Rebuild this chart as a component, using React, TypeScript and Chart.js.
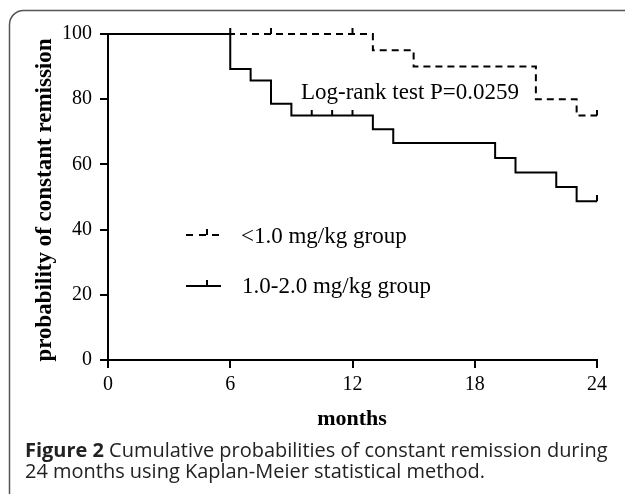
import React, { useEffect, useRef } from "react";
import { Chart, registerables } from "chart.js";

Chart.register(...registerables);

// ---- data ----
const xTicks = [0, 6, 12, 18, 24];
const yTicks = [0, 20, 40, 60, 80, 100];

const lowTimes = [0, 13, 15, 21, 23, 24];
const lowSurv = [100, 95, 90, 80, 75, 75];
const lowCensorTimes = [6, 8, 12, 24];
const lowCensorSurv = [100, 100, 100, 75];

const highTimes = [0, 6, 7, 8, 9, 13, 14, 19, 20, 22, 23, 24];
const highSurv = [100, 89.3, 85.7, 78.6, 75.0, 70.8, 66.6, 62.0, 57.5, 53.1, 48.7, 48.7];
const highCensorTimes = [10, 11, 12, 24];
const highCensorSurv = [75, 75, 75, 48.7];

const legendLabels = ["<1.0 mg/kg group", "1.0-2.0 mg/kg group"];
const xTitle = "months";
const yTitle = "probability of constant remission";
const annotationText = "Log-rank test P=0.0259";
const captionBold = "Figure 2";
const captionRest1 = " Cumulative probabilities of constant remission during";
const captionLine2 = "24 months using Kaplan-Meier statistical method.";

const SERIF = '"Liberation Serif", "Times New Roman", serif';
const SANS = '"Open Sans", "Noto Sans", sans-serif';

function makeCensorMark(): HTMLCanvasElement {
  const c = document.createElement("canvas");
  c.width = 4;
  c.height = 12;
  const g = c.getContext("2d")!;
  g.fillStyle = "#000";
  g.fillRect(1, 0, 2, 6);
  return c;
}

const decorPlugin = {
  id: "decor",
  beforeDraw(chart: any) {
    const ctx = chart.ctx;
    ctx.save();
    ctx.fillStyle = "#fff";
    ctx.fillRect(0, 0, chart.width, chart.height);
    ctx.restore();
  },
  afterDraw(chart: any) {
    const ctx = chart.ctx as CanvasRenderingContext2D;
    ctx.save();

    // frame
    ctx.strokeStyle = "#555";
    ctx.lineWidth = 1.5;
    ctx.beginPath();
    (ctx as any).roundRect(9.5, 10.5, 700, 600, 14);
    ctx.stroke();

    ctx.fillStyle = "#000";
    // y title
    ctx.save();
    ctx.font = `bold 23px ${SERIF}`;
    ctx.textAlign = "center";
    ctx.textBaseline = "alphabetic";
    ctx.translate(51, 200);
    ctx.rotate(-Math.PI / 2);
    ctx.fillText(yTitle, 0, 0);
    ctx.restore();

    // x title
    ctx.font = `bold 22px ${SERIF}`;
    ctx.textAlign = "center";
    ctx.textBaseline = "alphabetic";
    ctx.fillText(xTitle, 352, 425);

    // annotation
    ctx.font = `23px ${SERIF}`;
    ctx.textAlign = "left";
    ctx.fillText(annotationText, 301, 99);

    // legend
    ctx.strokeStyle = "#000";
    ctx.lineWidth = 2;
    ctx.setLineDash([7, 6]);
    ctx.beginPath();
    ctx.moveTo(186, 235);
    ctx.lineTo(221, 235);
    ctx.stroke();
    ctx.setLineDash([]);
    ctx.beginPath();
    ctx.moveTo(207, 229);
    ctx.lineTo(207, 235);
    ctx.stroke();
    ctx.beginPath();
    ctx.moveTo(186, 286);
    ctx.lineTo(221, 286);
    ctx.moveTo(207, 280);
    ctx.lineTo(207, 286);
    ctx.stroke();
    ctx.font = `23px ${SERIF}`;
    ctx.fillText(legendLabels[0], 241, 243);
    ctx.fillText(legendLabels[1], 242, 293);

    // caption
    ctx.font = `bold 100px ${SANS}`;
    const wb = ctx.measureText(captionBold).width;
    ctx.font = `100px ${SANS}`;
    const wr = ctx.measureText(captionRest1).width;
    const size = (100 * 583) / (wb + wr);
    ctx.fillStyle = "#222";
    ctx.font = `bold ${size}px ${SANS}`;
    ctx.fillText(captionBold, 25, 457);
    const bw = ctx.measureText(captionBold).width;
    ctx.font = `${size}px ${SANS}`;
    ctx.fillText(captionRest1, 25 + bw, 457);
    ctx.fillText(captionLine2, 25, 478);

    ctx.restore();
  },
};

export default function App() {
  const ref = useRef<HTMLCanvasElement | null>(null);

  useEffect(() => {
    if (!ref.current) return;
    const mark = makeCensorMark();
    const pts = (xs: number[], ys: number[]) => xs.map((x, i) => ({ x, y: ys[i] }));
    const axisCommon = {
      border: { color: "#000", width: 2 },
      grid: {
        drawOnChartArea: false,
        drawTicks: true,
        tickLength: 8,
        color: "#000",
        lineWidth: 2,
        tickWidth: 2,
      },
    };
    const chart = new Chart(ref.current, {
      type: "line",
      data: {
        datasets: [
          {
            label: legendLabels[1],
            data: pts(highTimes, highSurv),
            borderColor: "#000",
            borderWidth: 2,
            stepped: "before",
            pointRadius: 0,
            fill: false,
            clip: false,
          } as any,
          {
            label: legendLabels[1] + " censored",
            data: pts(highCensorTimes, highCensorSurv),
            showLine: false,
            pointStyle: mark,
            pointRadius: 3,
            clip: false,
          } as any,
          {
            label: legendLabels[0],
            data: pts(lowTimes, lowSurv),
            borderColor: "#000",
            borderWidth: 2,
            borderDash: [7, 5],
            stepped: "before",
            pointRadius: 0,
            fill: false,
            clip: false,
          } as any,
          {
            label: legendLabels[0] + " censored",
            data: pts(lowCensorTimes, lowCensorSurv),
            showLine: false,
            pointStyle: mark,
            pointRadius: 3,
            clip: false,
          } as any,
        ],
      },
      options: {
        animation: false,
        responsive: false,
        events: [],
        layout: { padding: { left: 0, top: 34, right: 28, bottom: 0 } },
        plugins: { legend: { display: false }, tooltip: { enabled: false } },
        scales: {
          x: {
            type: "linear",
            min: 0,
            max: 24,
            ...axisCommon,
            afterBuildTicks: (s: any) => {
              s.ticks = xTicks.map((v) => ({ value: v }));
            },
            afterFit: (s: any) => {
              s.height = 134;
            },
            ticks: {
              font: { family: SERIF, size: 20 },
              color: "#000",
              padding: 5,
              maxRotation: 0,
              autoSkip: false,
            },
          },
          y: {
            type: "linear",
            min: 0,
            max: 100,
            ...axisCommon,
            afterBuildTicks: (s: any) => {
              s.ticks = yTicks.map((v) => ({ value: v }));
            },
            afterFit: (s: any) => {
              s.width = 108;
            },
            ticks: {
              font: { family: SERIF, size: 20 },
              color: "#000",
              padding: 8,
              autoSkip: false,
            },
          },
        },
      } as any,
      plugins: [decorPlugin],
    });
    return () => chart.destroy();
  }, []);

  return (
    <canvas
      ref={ref}
      width={625}
      height={494}
      style={{ position: "absolute", left: 0, top: 0, width: 625, height: 494 }}
    />
  );
}
